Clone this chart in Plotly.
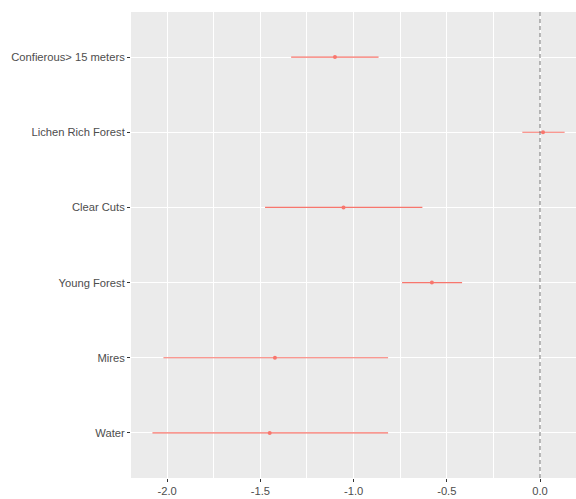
import plotly.graph_objects as go

# Habitat categories, listed bottom to top on the y axis
habitats = ["Water", "Mires", "Young Forest", "Clear Cuts",
            "Lichen Rich Forest", "Confierous> 15 meters"]
estimate = [-1.45, -1.422, -0.58, -1.054, 0.016, -1.10]
lower = [-2.079, -2.020, -0.740, -1.475, -0.095, -1.335]
upper = [-0.815, -0.815, -0.418, -0.631, 0.132, -0.866]

x_ticks = [-2.0, -1.5, -1.0, -0.5, 0.0]
x_tick_text = ["-2.0", "-1.5", "-1.0", "-0.5", "0.0"]

salmon = "#F8766D"

err_plus = [u - e for u, e in zip(upper, estimate)]
err_minus = [e - l for e, l in zip(estimate, lower)]

fig = go.Figure()
fig.add_trace(go.Scatter(
    x=estimate, y=habitats, mode="markers",
    marker=dict(color=salmon, size=4),
    error_x=dict(type="data", symmetric=False, array=err_plus,
                 arrayminus=err_minus, color=salmon, thickness=1.2, width=0),
    showlegend=False,
))

# dashed reference line at zero
fig.add_shape(type="line", x0=0, x1=0, y0=0, y1=1, xref="x", yref="paper",
              line=dict(color="#555555", width=0.8, dash="4px,3px"), layer="above")

tick_font = dict(family="Liberation Sans, Arial, sans-serif", size=11.2, color="#4D4D4D")

fig.update_layout(
    width=576, height=499,
    margin=dict(l=131, r=0, t=12, b=21),
    paper_bgcolor="white", plot_bgcolor="#EBEBEB",
    xaxis=dict(range=[-2.194, 0.193], tickvals=x_ticks, ticktext=x_tick_text,
               showgrid=True, gridcolor="white", gridwidth=1.1,
               minor=dict(dtick=0.25, tick0=0, showgrid=True, gridcolor="white", gridwidth=0.5),
               zeroline=False, ticks="outside", ticklen=3, tickcolor="#333333",
               tickfont=tick_font, showline=False),
    yaxis=dict(type="category", categoryorder="array", categoryarray=habitats,
               range=[-0.6, 5.6], showgrid=True, gridcolor="white", gridwidth=1.1,
               zeroline=False, ticks="outside", ticklen=3, tickcolor="#333333",
               tickfont=tick_font, showline=False),
)

fig.write_html("out.html")
